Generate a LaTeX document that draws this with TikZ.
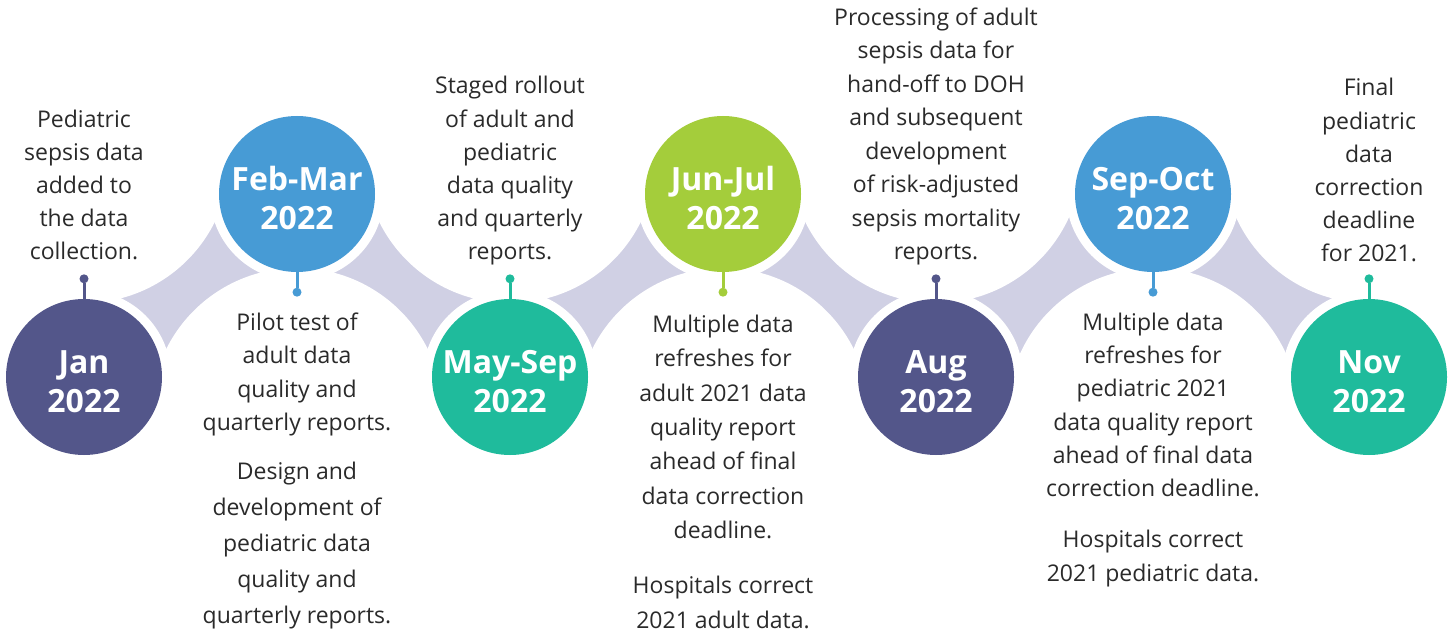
\documentclass[tikz,border=0pt]{standalone}
\usepackage{fontspec}
\setmainfont{Open Sans}
\usetikzlibrary{positioning}

\definecolor{slatepurple}{HTML}{53568A}
\definecolor{skyblue}{HTML}{479BD5}
\definecolor{seagreen}{HTML}{1FBB9C}
\definecolor{limegreen}{HTML}{A4CD3B}
\definecolor{lavender}{HTML}{D0D0E4}
\definecolor{inkgray}{HTML}{2A2A2A}

\tikzset{
		timeline/.style={x=1pt,y=-1pt},
		datecircle/.style={circle,fill=#1,minimum size=156pt,inner sep=0pt,
			text=white,align=center,text height=71pt,text depth=0pt,
			font=\fontsize{32}{39}\selectfont\bfseries,
			preaction={draw=white,line width=18pt}},
		pindot/.style={circle,fill=#1,minimum size=9pt,inner sep=0pt},
		pinstem/.style={draw=#1,line width=3pt},
		note/.style={align=center,inner sep=0pt,text=inkgray,text depth=0pt,
			font=\fontsize{23}{33.2}\selectfont},
		lead/.style={font=\fontsize{23}{#1}\selectfont},
		band/.style={fill=lavender}
	}

\begin{document}
\begin{tikzpicture}[timeline]
				\useasboundingbox (0,0) rectangle (1453,636);
				\coordinate (c1) at (84,377);
				\coordinate (c2) at (297,194);
				\coordinate (c3) at (510,377);
				\coordinate (c4) at (723,194);
				\coordinate (c5) at (936,377);
				\coordinate (c6) at (1153,194);
				\coordinate (c7) at (1369,377);
				\coordinate (a1) at (84,157);
				\coordinate (a2) at (297,414);
				\coordinate (a3) at (510,157);
				\coordinate (a4) at (723,414);
				\coordinate (a5) at (936,157);
				\coordinate (a6) at (1153,414);
				\coordinate (a7) at (1369,157);
				% lavender links, cut by the white text areas
				\foreach \i [count=\j from 2] in {1,...,6}
					\fill[band] (c\i) -- (a\i) -- (c\j) -- (a\j) -- cycle;
				\foreach \i in {1,...,7}
					\fill[white] (a\i) circle (146pt);

				\node[datecircle=slatepurple] (jan) at (c1) {Jan\\2022};
				\node[datecircle=skyblue] (febmar) at (c2) {Feb-Mar\\2022};
				\node[datecircle=seagreen] (maysep) at (c3) {May-Sep\\2022};
				\node[datecircle=limegreen] (junjul) at (c4) {Jun-Jul\\2022};
				\node[datecircle=slatepurple] (aug) at (c5) {Aug\\2022};
				\node[datecircle=skyblue] (sepoct) at (c6) {Sep-Oct\\2022};
				\node[datecircle=seagreen] (nov) at (c7) {Nov\\2022};

				\node[pindot=slatepurple] (jandot) at ([yshift=20pt]jan.north) {};
				\node[pindot=skyblue] (febmardot) at ([yshift=-20pt]febmar.south) {};
				\node[pindot=seagreen] (maysepdot) at ([yshift=20pt]maysep.north) {};
				\node[pindot=limegreen] (junjuldot) at ([yshift=-20pt]junjul.south) {};
				\node[pindot=slatepurple] (augdot) at ([yshift=20pt]aug.north) {};
				\node[pindot=skyblue] (sepoctdot) at ([yshift=-20pt]sepoct.south) {};
				\node[pindot=seagreen] (novdot) at ([yshift=20pt]nov.north) {};
				\draw[pinstem=slatepurple] (jan) -- (jandot);
				\draw[pinstem=skyblue] (febmar) -- (febmardot);
				\draw[pinstem=seagreen] (maysep) -- (maysepdot);
				\draw[pinstem=limegreen] (junjul) -- (junjuldot);
				\draw[pinstem=slatepurple] (aug) -- (augdot);
				\draw[pinstem=skyblue] (sepoct) -- (sepoctdot);
				\draw[pinstem=seagreen] (nov) -- (novdot);

				\node[note,above=14pt of jandot] (jannote)
					{Pediatric\\sepsis data\\added to\\the data\\collection.};
				\node[note,below=16pt of febmardot] (febmarnote)
					{Pilot test of\\adult data\\quality and\\quarterly reports.};
				\node[note,lead=36,below=31pt of febmarnote] (febmarnotetwo)
					{Design and\\development of\\pediatric data\\quality and\\quarterly reports.};
				\node[note,above=14pt of maysepdot] (maysepnote)
					{Staged rollout\\of adult and\\pediatric\\data quality\\and quarterly\\reports.};
				\node[note,lead=34.3,below=18pt of junjuldot] (junjulnote)
					{Multiple data\\refreshes for\\adult 2021 data\\quality report\\ahead of final\\data correction\\deadline.};
				\node[note,lead=35,below=37pt of junjulnote] (junjulnotetwo)
					{Hospitals correct\\2021 adult data.};
				\node[note,lead=33.5,above=14pt of augdot] (augnote)
					{Processing of adult\\sepsis data for\\hand-off to DOH\\and subsequent\\development\\of risk-adjusted\\sepsis mortality\\reports.};
				\node[note,below=16pt of sepoctdot] (sepoctnote)
					{Multiple data\\refreshes for\\pediatric 2021\\data quality report\\ahead of final data\\correction deadline.};
				\node[note,lead=34,below=33pt of sepoctnote] (sepoctnotetwo)
					{Hospitals correct\\2021 pediatric data.};
				\node[note,above=12pt of novdot] (novnote)
					{Final\\pediatric\\data\\correction\\deadline\\for 2021.};
			\end{tikzpicture}
\end{document}
